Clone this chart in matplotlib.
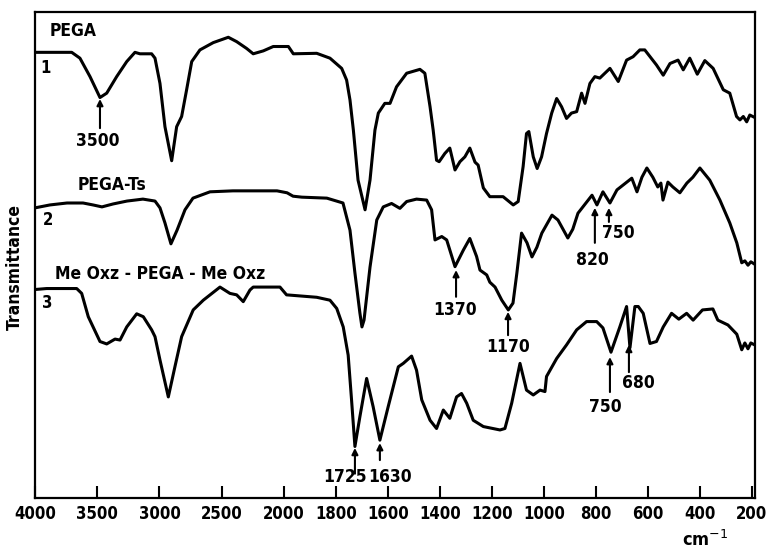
import numpy as np
import matplotlib
matplotlib.use("Agg")
import matplotlib.pyplot as plt

# --- spectra (wavenumber cm-1, transmittance in arbitrary %) ---
pega_wn = [4000, 3705, 3639, 3558, 3478, 3424, 3344, 3263, 3197, 3157, 3063, 3036, 2996, 2956,
           2902, 2862, 2822, 2782, 2741, 2675, 2568, 2447, 2380, 2300, 2247, 2166, 2086, 1983,
           1964, 1874, 1823, 1778, 1759, 1746, 1733, 1715, 1688, 1669, 1650, 1637, 1612, 1592,
           1567, 1528, 1477, 1458, 1438, 1426, 1413, 1403, 1381, 1362, 1342, 1323, 1304, 1285,
           1265, 1253, 1233, 1208, 1157, 1118, 1099, 1080, 1067, 1058, 1041, 1026, 1009, 990,
           970, 951, 932, 913, 894, 874, 855, 842, 823, 804, 785, 746, 714, 682, 657, 631, 612,
           567, 541, 515, 484, 464, 439, 410, 381, 349, 310, 285, 259, 246, 233, 220, 208, 189]
pega_t = [91.7, 91.7, 90.5, 86.7, 82.4, 83.3, 86.7, 89.8, 91.7, 91.4, 91.4, 90.5, 85.3, 76.4,
          69.4, 76.4, 78.5, 84.0, 89.8, 92.2, 93.7, 94.8, 93.9, 92.5, 91.4, 92.0, 92.9, 92.9,
          91.4, 91.5, 90.5, 88.4, 86.0, 81.9, 75.7, 65.4, 59.3, 65.4, 75.7, 79.2, 81.2, 81.2,
          84.6, 87.4, 88.2, 87.4, 80.5, 75.7, 69.5, 69.2, 70.9, 72.0, 67.5, 69.2, 70.2, 72.0,
          69.1, 68.5, 63.8, 62.0, 62.0, 60.3, 61.0, 68.2, 75.0, 75.4, 70.2, 67.8, 70.2, 75.0,
          79.2, 82.2, 80.5, 78.1, 79.2, 79.5, 83.3, 81.2, 85.3, 86.7, 86.4, 88.4, 85.7, 90.1,
          90.8, 92.2, 92.2, 89.1, 87.0, 89.4, 90.1, 88.1, 90.5, 87.2, 90.0, 88.4, 84.0, 83.3,
          78.5, 77.8, 78.5, 77.4, 78.8, 78.3]

ts_wn = [4000, 3880, 3743, 3614, 3534, 3462, 3373, 3261, 3133, 3036, 2996, 2956, 2908, 2859,
         2795, 2731, 2594, 2410, 2249, 2056, 1988, 1965, 1931, 1835, 1773, 1746, 1727, 1708,
         1700, 1692, 1669, 1643, 1618, 1586, 1554, 1528, 1490, 1451, 1432, 1419, 1393, 1374,
         1342, 1310, 1285, 1259, 1246, 1220, 1208, 1188, 1162, 1137, 1119, 1104, 1086, 1065,
         1046, 1027, 1008, 969, 946, 908, 889, 869, 815, 796, 773, 746, 719, 681, 662, 642,
         623, 604, 581, 562, 550, 542, 523, 504, 477, 450, 427, 400, 362, 323, 285, 258, 239,
         227, 215, 204, 189]
ts_t = [59.7, 60.3, 60.7, 60.7, 60.3, 59.9, 60.5, 61.1, 61.5, 61.1, 59.7, 56.6, 52.3, 55.1,
        59.3, 61.7, 63.0, 63.2, 63.2, 63.2, 62.8, 62.1, 61.9, 61.7, 60.7, 55.1, 46.3, 38.1,
        35.2, 36.6, 47.5, 57.2, 59.9, 60.6, 59.6, 61.0, 61.5, 61.3, 59.3, 53.1, 53.8, 53.1,
        47.6, 51.0, 53.4, 49.7, 46.9, 45.9, 44.4, 43.4, 40.7, 38.7, 40.1, 46.3, 54.5, 52.5,
        49.6, 51.6, 54.5, 58.2, 57.2, 53.5, 55.3, 58.6, 62.3, 60.3, 63.0, 60.7, 63.4, 65.0,
        65.8, 63.0, 66.0, 67.9, 66.0, 64.0, 64.8, 61.3, 65.0, 64.0, 62.8, 64.8, 66.0, 67.9,
        65.4, 61.3, 56.6, 52.5, 48.4, 48.8, 47.9, 48.6, 48.1]

oxz_wn = [4000, 3906, 3665, 3625, 3572, 3478, 3424, 3357, 3317, 3263, 3183, 3130, 3063, 3036,
          2996, 2929, 2876, 2822, 2729, 2648, 2514, 2434, 2380, 2327, 2273, 2247, 2032, 1990,
          1874, 1823, 1797, 1772, 1753, 1740, 1727, 1708, 1682, 1657, 1631, 1599, 1560, 1541,
          1509, 1490, 1470, 1438, 1413, 1387, 1362, 1336, 1317, 1297, 1272, 1233, 1169, 1150,
          1124, 1092, 1067, 1041, 1015, 996, 990, 951, 913, 874, 836, 797, 773, 742, 708, 682,
          669, 650, 637, 618, 592, 567, 541, 509, 481, 451, 426, 390, 350, 331, 292, 258, 239,
          227, 215, 204, 189]
oxz_t = [42.9, 43.1, 43.1, 42.1, 37.3, 32.2, 31.7, 32.7, 32.5, 35.2, 37.9, 37.3, 34.6, 33.2,
         28.4, 20.8, 27.0, 33.2, 38.7, 40.7, 43.4, 42.1, 41.8, 40.4, 42.8, 43.4, 43.4, 41.8,
         41.3, 40.7, 39.0, 35.2, 29.4, 20.2, 10.6, 16.7, 24.6, 18.8, 11.9, 18.8, 27.0, 27.7,
         29.2, 26.3, 20.2, 16.0, 14.3, 18.1, 16.4, 20.8, 21.5, 19.5, 16.0, 14.7, 14.0, 14.3,
         19.5, 27.7, 22.2, 21.2, 22.2, 21.9, 25.0, 28.7, 31.5, 34.6, 36.3, 36.3, 35.0, 30.0,
         35.2, 39.4, 30.9, 39.4, 39.4, 38.0, 31.8, 32.2, 35.2, 38.0, 36.8, 38.0, 36.6, 38.7,
         38.9, 36.6, 35.6, 33.7, 30.5, 31.9, 30.7, 31.9, 31.5]

# band labels: text, wavenumber of arrow, arrow tip, arrow tail, text x, text y
bands = [("3500", 3478, 82.1, 76.1, 3494, 73.5),
         ("1370", 1338, 46.9, 41.4, 1342, 38.7),
         ("1170", 1138, 38.3, 33.5, 1138, 31.1),
         ("820", 804, 59.7, 52.5, 812, 49.0),
         ("750", 750, 59.7, 56.8, 715, 54.5),
         ("1725", 1727, 10.3, 5.0, 1765, 4.3),
         ("1630", 1631, 11.3, 7.8, 1592, 4.3),
         ("750", 746, 29.0, 21.8, 762, 18.7),
         ("680", 673, 31.5, 25.9, 635, 23.7)]

tick_wn = [4000, 3500, 3000, 2500, 2000, 1800, 1600, 1400, 1200, 1000, 800, 600, 400, 200]


def fwd(w):
    w = np.asarray(w, float)
    return np.where(w <= 2000, w * 0.26, 520 + (w - 2000) * 0.1245)


def inv(u):
    u = np.asarray(u, float)
    return np.where(u <= 520, u / 0.26, 2000 + (u - 520) / 0.1245)


FONT = dict(family="DejaVu Sans", fontweight="bold", fontstretch="condensed")

fig = plt.figure(figsize=(7.71, 5.52), dpi=100)
ax = fig.add_axes([35 / 771, 54 / 552, 720 / 771, 486 / 552])
ax.set_xscale("function", functions=(fwd, inv))

for wn, t in [(pega_wn, pega_t), (ts_wn, ts_t), (oxz_wn, oxz_t)]:
    ax.plot(wn, t, color="black", lw=2.2, solid_joinstyle="round", solid_capstyle="round")

ax.set_xlim(4000, 188)
ax.set_ylim(0, 100)
ax.set_xticks(tick_wn)
ax.set_xticklabels([str(v) for v in tick_wn], fontsize=12, **FONT)
ax.set_yticks([])
ax.tick_params(axis="x", direction="in", length=9, width=1.5, pad=5)
for s in ax.spines.values():
    s.set_linewidth(1.6)

for lab, w, tip, tail, tx, ty in bands:
    ax.annotate("", xy=(w, tip), xytext=(w, tail),
                arrowprops=dict(arrowstyle="-|>", lw=1.5, color="black",
                                mutation_scale=9, shrinkA=0, shrinkB=0))
    ax.text(tx, ty, lab, ha="center", va="center", fontsize=12.5, **FONT)

ax.text(3880, 96.1, "PEGA", ha="left", va="center", fontsize=12.5, **FONT)
ax.text(3912, 88.5, "1", ha="center", va="center", fontsize=12, **FONT)
ax.text(3655, 64.4, "PEGA-Ts", ha="left", va="center", fontsize=12.5, **FONT)
ax.text(3896, 57.2, "2", ha="center", va="center", fontsize=12, **FONT)
ax.text(3839, 46.1, "Me Oxz - PEGA - Me Oxz", ha="left", va="center", fontsize=12.5, **FONT)
ax.text(3904, 40.1, "3", ha="center", va="center", fontsize=12, **FONT)

fig.text(0.019, 0.516, "Transmittance", rotation=90, ha="center", va="center",
         fontsize=12.5, **FONT)
fig.text(0.914, 0.022, "cm$^{-1}$", ha="center", va="center", fontsize=13, **FONT)

fig.savefig("out.png", dpi=100, facecolor="white")
